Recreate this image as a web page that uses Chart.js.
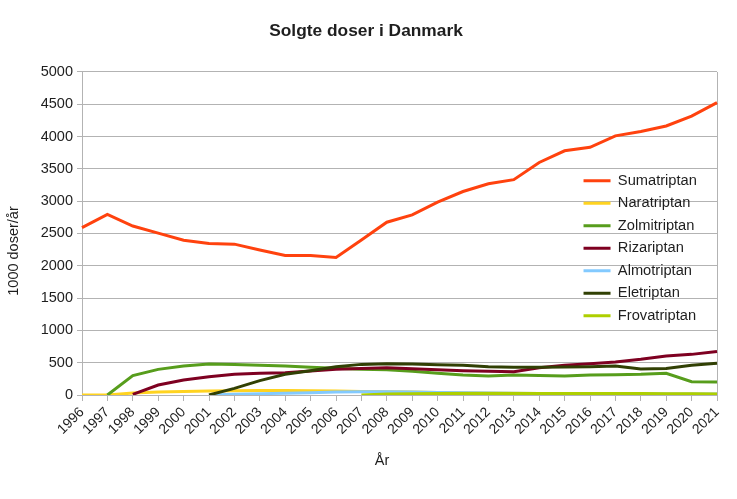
<!DOCTYPE html>
<html>
<head>
<meta charset="utf-8">
<script src="https://cdn.jsdelivr.net/npm/chart.js@4/dist/chart.umd.min.js"></script>
<style>
  html, body { margin: 0; padding: 0; background: #fff; }
  #wrap { width: 737px; height: 499px; position: relative; }
</style>
</head>
<body>
<div id="wrap"><canvas id="c"></canvas></div>
<script>
const years = ['1996','1997','1998','1999','2000','2001','2002','2003','2004','2005','2006','2007','2008','2009','2010','2011','2012','2013','2014','2015','2016','2017','2018','2019','2020','2021'];

const sumatriptan = [2590, 2795, 2615, 2505, 2395, 2345, 2335, 2245, 2160, 2158, 2130, 2400, 2675, 2789, 2985, 3150, 3270, 3334, 3600, 3780, 3834, 4012, 4080, 4165, 4318, 4525];
const naratriptan = [0, 0, 30, 45, 55, 60, 65, 70, 70, 65, 60, 55, 50, 45, 40, 35, 30, 28, 25, 22, 20, 18, 15, 12, 10, 10];
const zolmitriptan = [null, 0, 300, 397, 448, 479, 474, 460, 448, 430, 415, 400, 392, 366, 335, 310, 295, 308, 300, 294, 308, 314, 320, 335, 206, 201];
const rizatriptan = [null, null, 10, 155, 232, 284, 320, 335, 345, 371, 397, 412, 420, 407, 392, 376, 366, 361, 423, 459, 485, 510, 552, 603, 629, 675];
const almotriptan = [null, null, null, null, null, 0, 10, 20, 28, 35, 45, 50, 50, 45, 40, 35, 30, 28, 25, 22, 20, 20, 18, 15, 15, 15];
const eletriptan = [null, null, null, null, null, 0, 103, 222, 320, 376, 438, 474, 485, 479, 469, 459, 438, 428, 428, 433, 438, 448, 402, 412, 459, 490];
const frovatriptan = [null, null, null, null, null, null, null, null, null, null, null, 0, 15, 20, 22, 25, 25, 25, 25, 25, 25, 25, 22, 20, 18, 15];

const seriesNames = ['Sumatriptan', 'Naratriptan', 'Zolmitriptan', 'Rizariptan', 'Almotriptan', 'Eletriptan', 'Frovatriptan'];
const seriesColors = ['#ff420e', '#ffd320', '#579d1c', '#7e0021', '#83caff', '#314004', '#aecf00'];
const seriesData = [sumatriptan, naratriptan, zolmitriptan, rizatriptan, almotriptan, eletriptan, frovatriptan];

const yTicks = { min: 0, max: 5000, step: 500 };

const FONT = '"Liberation Sans", Arial, sans-serif';
const TEXT = '#1e1e1e';
const GRID = '#b3b3b3';

const datasets = seriesData.map((d, i) => ({
  label: seriesNames[i],
  data: d,
  borderColor: seriesColors[i],
  backgroundColor: seriesColors[i],
  borderWidth: 3,
  pointRadius: 0,
  pointHoverRadius: 0,
  tension: 0,
  fill: false,
  order: -i
}));

const fixedBits = {
  id: 'fixedBits',
  afterLayout(chart) {
    const lg = chart.legend;
    if (!lg) return;
    const w = lg.width, h = lg.height;
    lg.left = 575.7; lg.top = 165.5;
    lg.right = lg.left + w; lg.bottom = lg.top + h;
  },
  beforeDatasetsDraw(chart) {
    const { ctx, chartArea: a } = chart;
    ctx.save();
    ctx.strokeStyle = GRID;
    ctx.lineWidth = 1;
    ctx.beginPath();
    ctx.moveTo(Math.round(a.right) + 0.5, a.top);
    ctx.lineTo(Math.round(a.right) + 0.5, a.bottom);
    ctx.stroke();
    ctx.restore();
  },
  afterDraw(chart) {
    const ctx = chart.ctx;
    ctx.save();
    ctx.fillStyle = TEXT;
    ctx.font = '14.5px ' + FONT;
    ctx.textAlign = 'center';
    ctx.textBaseline = 'middle';
    ctx.fillText('År', 382, 461);
    ctx.translate(13.5, 251);
    ctx.rotate(-Math.PI / 2);
    ctx.fillText('1000 doser/år', 0, 0);
    ctx.restore();
  }
};

new Chart(document.getElementById('c'), {
  type: 'line',
  data: { labels: years, datasets },
  plugins: [fixedBits],
  options: {
    responsive: true,
    maintainAspectRatio: false,
    animation: false,
    events: [],
    layout: { padding: { left: 15, right: 20, top: 0, bottom: 0 } },
    plugins: {
      title: {
        display: true,
        text: 'Solgte doser i Danmark',
        color: TEXT,
        font: { family: FONT, size: 17.33, weight: 'bold', lineHeight: 1.2 },
        padding: { top: 21.3, bottom: 29.9 }
      },
      legend: {
        display: true,
        position: 'chartArea',
        align: 'start',
        labels: {
          color: TEXT,
          font: { family: FONT, size: 14.67 },
          boxWidth: 27,
          boxHeight: 3,
          padding: 7.83,
          generateLabels(chart) {
            return Chart.defaults.plugins.legend.labels.generateLabels(chart).map(l => Object.assign(l, { lineWidth: 0 }));
          },
          sort: (a, b) => a.datasetIndex - b.datasetIndex
        }
      },
      tooltip: { enabled: false }
    },
    scales: {
      x: {
        offset: false,
        afterFit(s) { s.height = 104; },
        grid: { drawOnChartArea: false, color: GRID, tickLength: 6 },
        border: { color: GRID },
        ticks: {
          color: TEXT,
          font: { family: FONT, size: 14 },
          minRotation: 45,
          maxRotation: 45,
          autoSkip: false,
          padding: 3
        }
      },
      y: {
        min: yTicks.min,
        max: yTicks.max,
        afterFit(s) { s.width = 67; },
        grid: { color: GRID, tickLength: 5 },
        border: { color: GRID },
        ticks: {
          stepSize: yTicks.step,
          color: TEXT,
          font: { family: FONT, size: 14.5 },
          padding: 4,
          callback: (v) => String(v)
        }
      }
    }
  }
});
</script>
</body>
</html>
